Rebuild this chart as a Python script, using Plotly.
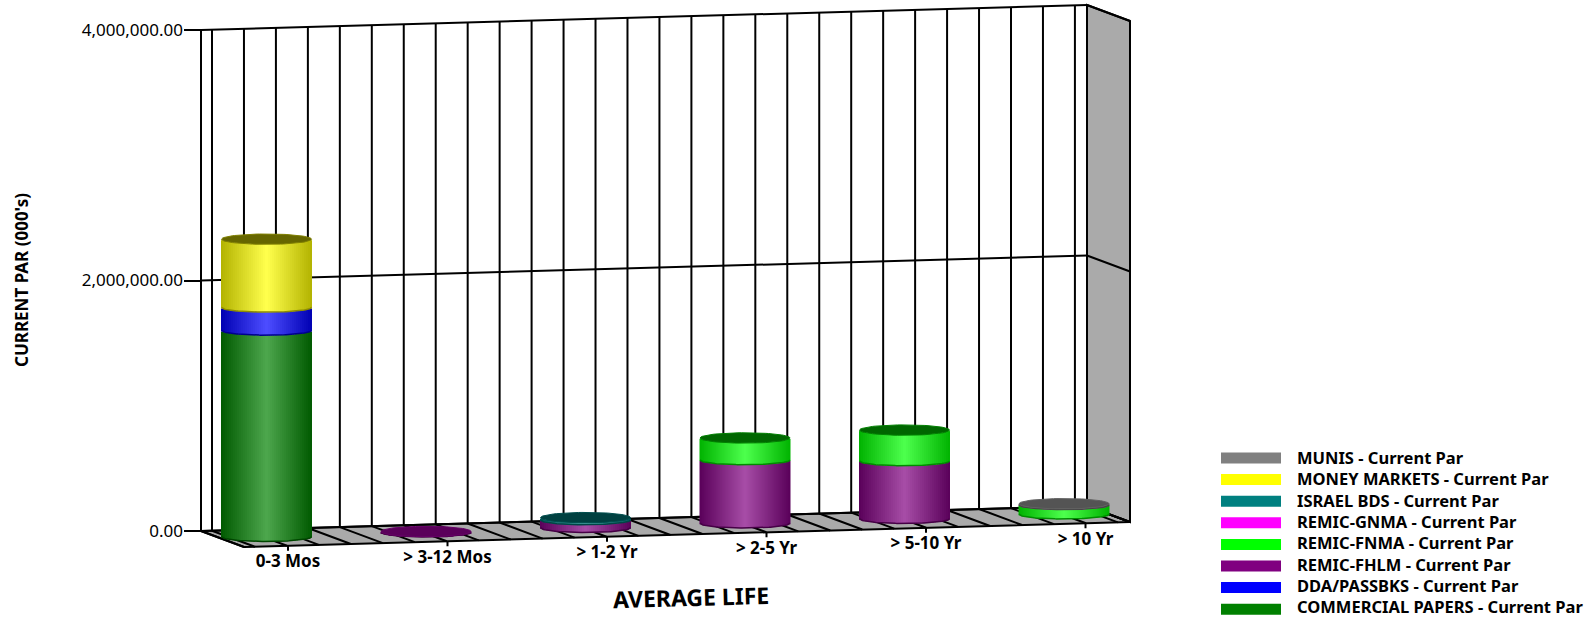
import math
import plotly.graph_objects as go

# ---------- data ----------
categories = ["0-3 Mos", "> 3-12 Mos", "> 1-2 Yr", "> 2-5 Yr", "> 5-10 Yr", "> 10 Yr"]
commercial_papers = [1647000, 0, 0, 0, 0, 0]
dda_passbks = [184000, 0, 0, 0, 0, 0]
remic_fhlm = [0, 6000, 62000, 505000, 461000, 0]
remic_fnma = [0, 0, 0, 176000, 247000, 75000]
remic_gnma = [0, 0, 0, 0, 0, 0]
israel_bds = [0, 0, 19000, 0, 0, 0]
money_markets = [545000, 0, 0, 0, 0, 0]
munis = [0, 0, 0, 0, 0, 9000]
y_ticks = [0, 2000000, 4000000]

series = [
    ("COMMERCIAL PAPERS - Current Par", commercial_papers, (0, 128, 0), 0.42),
    ("DDA/PASSBKS - Current Par", dda_passbks, (0, 0, 255), 0.4),
    ("REMIC-FHLM - Current Par", remic_fhlm, (128, 0, 128), 0.7),
    ("REMIC-FNMA - Current Par", remic_fnma, (0, 255, 0), 0.4),
    ("REMIC-GNMA - Current Par", remic_gnma, (255, 0, 255), 0.4),
    ("ISRAEL BDS - Current Par", israel_bds, (0, 128, 128), 0.5),
    ("MONEY MARKETS - Current Par", money_markets, (255, 255, 0), 0.4),
    ("MUNIS - Current Par", munis, (128, 128, 128), 0.66),
]

# ---------- projection ----------
W, H = 1587, 618
ZERO_PY = 531.0
VPP = 2000000 / 250.5        # value per pixel
WALL_L, WALL_R = 201.0, 1087.0
SLOPE = 25.0 / 886.0
DX, DY = 43.0, 16.0
FONT = "Noto Sans"


def project(bx, depth, value):
    return bx + DX * depth, value + (SLOPE * (bx - WALL_L) - DY * depth) * VPP


def val_of_py(py):
    return (ZERO_PY - py) * VPP


def rgb(c):
    return "rgb(%d,%d,%d)" % tuple(round(x) for x in c)


def mix(a, b, t):
    return tuple(a[i] + (b[i] - a[i]) * t for i in range(3))


def scale(c, f):
    return tuple(x * f for x in c)


shapes = []


def seg(p, q, width=2):
    shapes.append(dict(type="line", xref="x", yref="y", layer="below",
                       x0=p[0], y0=p[1], x1=q[0], y1=q[1],
                       line=dict(color="black", width=width)))


def poly(points, fill):
    path = "M" + " L".join("%.2f,%.2f" % p for p in points) + " Z"
    shapes.append(dict(type="path", xref="x", yref="y", layer="below", path=path,
                       fillcolor=fill, line=dict(color="black", width=2)))


TOP = y_ticks[-1]
grid_x = [212.0 + 31.96 * i for i in range(28)]

# floor and side wall
poly([project(WALL_L, 0, 0), project(WALL_R, 0, 0), project(WALL_R, 1, 0), project(WALL_L, 1, 0)], "#aaaaaa")
poly([project(WALL_R, 0, 0), project(WALL_R, 0, TOP), project(WALL_R, 1, TOP), project(WALL_R, 1, 0)], "#aaaaaa")
# back wall lines
for bx in [WALL_L] + grid_x + [WALL_R]:
    seg(project(bx, 0, 0), project(bx, 0, TOP))
    seg(project(bx, 0, 0), project(bx, 1, 0))
for v in y_ticks:
    seg(project(WALL_L, 0, v), project(WALL_R, 0, v))
    seg(project(WALL_R, 0, v), project(WALL_R, 1, v))

# ---------- cylinders ----------
RX, RY, CAP_RY = 45.0, 4.7, 5.2
BASE_DEPTH = 7.0 / DY     # the cylinders stand a little behind mid-floor vertically
N_STRIPS = 45
STEP = 159.5
FIRST_CX = 245.0    # centre on the back wall line
centres = [FIRST_CX + STEP * i for i in range(len(categories))]
STRIP_W = 2.0 * RX / N_STRIPS


def cyl_point(i, value):
    x, _ = project(centres[i], 0.5, 0)
    _, y = project(centres[i], BASE_DEPTH, value)
    return x, y


fig = go.Figure()
stack = [0.0] * len(categories)
overlay = []
top_of = [None] * len(categories)

for name, values, colour, cap in series:
    edge, mid = scale(colour, 0.7), mix(colour, (255, 255, 255), 0.3)
    for i, v in enumerate(values):
        if v <= 0:
            continue
        xs, bases, hs, cols = [], [], [], []
        cx, base0 = cyl_point(i, stack[i])
        # paint from both outer edges inward so each overlapping strip is covered cleanly
        order = sorted(range(N_STRIPS), key=lambda k: abs(k - (N_STRIPS - 1) / 2), reverse=True)
        for k in order:
            t = -1 + (2 * k + 1) / N_STRIPS
            xs.append(cx + t * RX)
            bases.append(base0 - math.sqrt(1 - t * t) * RY * VPP)
            hs.append(v)
            cols.append(rgb(mix(edge, mid, 1 - abs(t))))
        fig.add_trace(go.Bar(x=xs, y=hs, base=bases, width=STRIP_W + 1.0, name=name,
                             marker=dict(color=cols, line=dict(width=0)), showlegend=False,
                             hoverinfo="skip"))
        ts = [-1 + 2 * k / 60 for k in range(61)]
        arc_x = [cx + t * RX for t in ts]
        arc_y = [base0 - math.sqrt(max(0, 1 - t * t)) * RY * VPP for t in ts]
        overlay.append(go.Scatter(x=arc_x, y=arc_y, mode="lines", hoverinfo="skip", showlegend=False,
                                  line=dict(color=rgb(scale(colour, 0.55)), width=1.5)))
        stack[i] += v
        top_of[i] = (colour, cap)

for tr in overlay:
    fig.add_trace(tr)

for i, top in enumerate(top_of):
    colour, cap = top
    cx, val = cyl_point(i, stack[i])
    ang = [2 * math.pi * k / 80 for k in range(81)]
    fig.add_trace(go.Scatter(x=[cx + RX * math.cos(a) for a in ang],
                             y=[val + CAP_RY * VPP * math.sin(a) for a in ang],
                             mode="lines", fill="toself", fillcolor=rgb(scale(colour, cap)),
                             line=dict(color=rgb(scale(colour, min(1, cap + 0.1))), width=1),
                             hoverinfo="skip", showlegend=False))

# ---------- category ticks and labels ----------
for i in range(len(categories)):
    p = project(centres[i], 1, 0)
    seg(p, (p[0], p[1] - 5 * VPP))
label_x, label_y = [], []
for i in range(len(categories)):
    p = project(centres[i], 1, 0)
    label_x.append(p[0])
    label_y.append(p[1] - 17 * VPP)
fig.add_trace(go.Scatter(x=label_x, y=label_y, text=categories, mode="text", cliponaxis=False,
                         textposition="middle center", hoverinfo="skip", showlegend=False,
                         textfont=dict(family=FONT, size=17, color="black", weight="bold")))

# ---------- legend ----------
annotations = []
LEG_TOP = 458.0
LEG_STEP = 21.6
TXT_TOP = 457.5
TXT_STEP = 21.3
for row, (name, values, colour, cap) in enumerate(reversed(series)):
    py = LEG_TOP + LEG_STEP * row
    shapes.append(dict(type="rect", xref="x", yref="y", layer="above", x0=1221, x1=1281,
                       y0=val_of_py(py - 5.5), y1=val_of_py(py + 5.5), fillcolor=rgb(colour),
                       line=dict(width=0)))
    annotations.append(dict(x=1294.5, y=val_of_py(TXT_TOP + TXT_STEP * row), xref="x", yref="y", text=name,
                            showarrow=False, xanchor="left", yanchor="middle",
                            font=dict(family=FONT, size=16.5, color="black", weight="bold")))

annotations.append(dict(x=(22 - 184) / (W - 184), y=(H - 280) / H, xref="paper", yref="paper",
                        xanchor="center", yanchor="middle",
                        text="CURRENT PAR (000's)", showarrow=False, textangle=-90,
                        font=dict(family=FONT, size=17, color="black", weight="bold")))
annotations.append(dict(x=691, y=val_of_py(597), xref="x", yref="y", text="AVERAGE LIFE", showarrow=False,
                        textangle=-1.6, font=dict(family=FONT, size=23, color="black", weight="bold")))

fig.update_layout(
    width=W, height=H, autosize=False, barmode="overlay",
    margin=dict(l=184, r=0, t=0, b=0, pad=0),
    paper_bgcolor="white", plot_bgcolor="rgba(0,0,0,0)", showlegend=False,
    shapes=shapes, annotations=annotations,
    xaxis=dict(range=[184, W], visible=False, fixedrange=True),
    yaxis=dict(range=[val_of_py(H), val_of_py(0)], tickvals=y_ticks, tickformat=",.2f",
               ticks="inside", ticklen=17, tickwidth=2, tickcolor="black",
               showgrid=False, zeroline=False, showline=False, fixedrange=True,
               ticklabelposition="outside", tickfont=dict(family=FONT, size=17, color="black")),
)
fig.write_html("out.html", config=dict(displayModeBar=False),
               post_script="document.body.style.margin='0';document.body.style.overflow='hidden';")
